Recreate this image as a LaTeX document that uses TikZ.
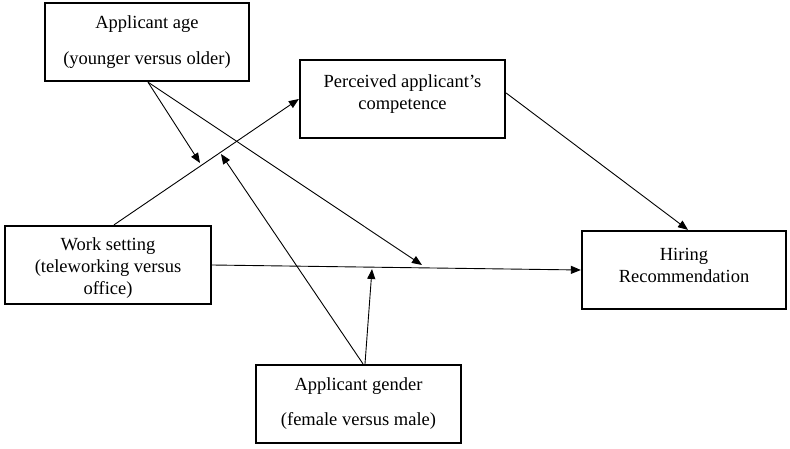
\documentclass[tikz,border=0pt]{standalone}
\usepackage{fontspec}
\setmainfont{Liberation Serif}
\usetikzlibrary{arrows.meta}
\begin{document}
\begin{tikzpicture}[x=1pt,y=-1pt,
  box/.style={draw=black, line width=2.3pt, rectangle, inner sep=0pt},
  txt/.style={inner sep=0pt, font=\fontsize{18.5}{22}\selectfont, align=center},
  conn/.style={draw=black, line width=0.9pt, -{Triangle[length=10pt,width=8pt]}},
  plain/.style={draw=black, line width=0.9pt}]
\useasboundingbox (0,0) rectangle (790,449);
% boxes
\node[box, minimum width=204pt, minimum height=78pt] (age) at (147,42) {};
\node[box, minimum width=205pt, minimum height=78pt] (comp) at (402.5,99) {};
\node[box, minimum width=206pt, minimum height=78pt] (work) at (108,265) {};
\node[box, minimum width=204pt, minimum height=78pt] (hire) at (684,270) {};
\node[box, minimum width=205pt, minimum height=78pt] (gend) at (358.5,404) {};
% texts
\node[txt] (agea) at (147,24) {Applicant age};
\node[txt] (ageb) at (147,60) {(younger versus older)};
\node[txt] (compa) at (402.5,94) {Perceived applicant’s\\competence};
\node[txt] (worka) at (108,268) {Work setting\\(teleworking versus\\office)};
\node[txt] (hirea) at (684,265) {Hiring\\Recommendation};
\node[txt] (genda) at (358.5,386) {Applicant gender};
\node[txt] (gendb) at (358.5,421) {(female versus male)};
% free ends
\coordinate (m1) at (200,163);
\coordinate (m2) at (221,154);
\coordinate (m3) at (422,265);
\coordinate (m4) at (372,269);
% connectors
\draw[conn] ([xshift=1pt]age.south) -- (m1);
\draw[conn] ([xshift=1pt]age.south) -- (m3);
\draw[conn] ([xshift=6pt]work.north) -- (comp.west);
\draw[conn] (work.east) -- (hire.west);
\draw[conn] ([xshift=4.5pt]gend.north) -- (m2);
\draw[conn] ([xshift=6.5pt]gend.north) -- (m4);
\draw[conn] ([yshift=6pt]comp.east) -- ([xshift=4pt]hire.north);
\end{tikzpicture}
\end{document}
